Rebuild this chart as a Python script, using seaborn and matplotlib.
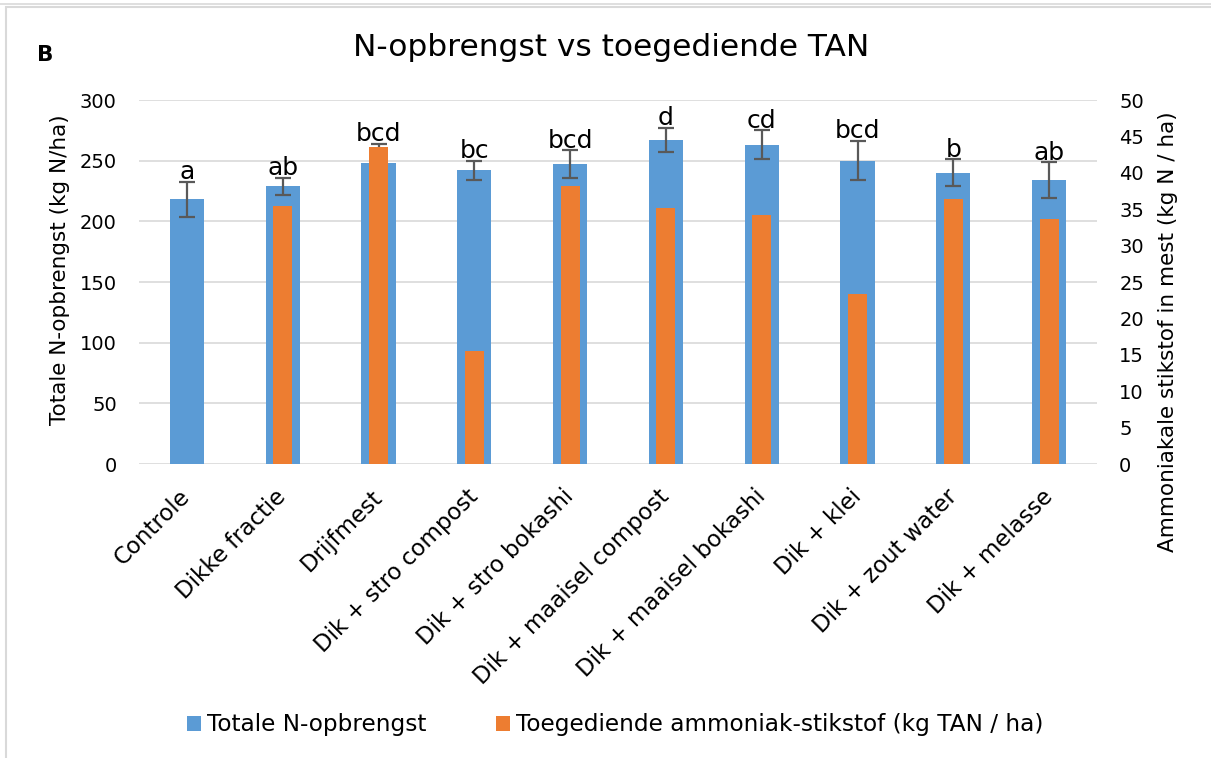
import numpy as np
import pandas as pd
import matplotlib
matplotlib.use("Agg")
import matplotlib.pyplot as plt
from matplotlib.patches import Patch, Rectangle
from matplotlib.lines import Line2D
import seaborn as sns

# ---------------- data ----------------
categories = ["Controle", "Dikke fractie", "Drijfmest", "Dik + stro compost",
              "Dik + stro bokashi", "Dik + maaisel compost", "Dik + maaisel bokashi",
              "Dik + klei", "Dik + zout water", "Dik + melasse"]
n_yield = [218, 229, 248, 242, 247, 267, 263, 250, 240, 234]          # kg N/ha
n_yield_err = [14.5, 7, 16, 8, 11.5, 10, 12, 16, 11, 14.5]
tan_applied = [0, 35.5, 43.5, 15.5, 38.2, 35.2, 34.2, 23.4, 36.4, 33.6]  # kg TAN/ha
letters = ["a", "ab", "bcd", "bc", "bcd", "d", "cd", "bcd", "b", "ab"]
left_ticks = [0, 50, 100, 150, 200, 250, 300]
right_ticks = [0, 5, 10, 15, 20, 25, 30, 35, 40, 45, 50]

title = "N-opbrengst vs toegediende TAN"
left_label = "Totale N-opbrengst (kg N/ha)"
right_label = "Ammoniakale stikstof in mest (kg N / ha)"
legend_labels = ["Totale N-opbrengst", "Toegediende ammoniak-stikstof (kg TAN / ha)"]

BLUE = "#5B9BD5"
ORANGE = "#ED7D31"
GRID = "#D9D9D9"
ERR = "#595959"
TXT = "#000000"

sns.set_style("white")
plt.rcParams["font.family"] = ["DejaVu Sans"]
plt.rcParams["text.color"] = TXT

df = pd.DataFrame({"cat": categories, "yield": n_yield, "err": n_yield_err,
                   "tan": tan_applied, "letter": letters})

W, H = 1211, 758
fig = plt.figure(figsize=(W / 100, H / 100), dpi=100)
ax = fig.add_axes([139 / W, 1 - 464 / H, (1097 - 139) / W, (464 - 100) / H])
ax2 = ax.twinx()

sns.barplot(data=df, x="cat", y="yield", order=categories, color=BLUE,
            width=0.355, errorbar=None, linewidth=0, saturation=1, ax=ax)
xpos = np.arange(len(categories))
ax.errorbar(xpos, df["yield"], yerr=df["err"], fmt="none", ecolor=ERR,
            elinewidth=1.6, capsize=6, capthick=1.6, zorder=3)

sns.barplot(data=df, x="cat", y="tan", order=categories, color=ORANGE,
            width=0.2, errorbar=None, linewidth=0, saturation=1, ax=ax2)

for i, row in df.iterrows():
    ax2.annotate(row["letter"], xy=(i, row["yield"] + row["err"]),
                 xycoords=ax.transData, xytext=(0, 2), textcoords="offset points",
                 ha="center", va="baseline", fontsize=18, color=TXT, zorder=5)

ax.set_ylim(0, 300)
ax2.set_ylim(0, 50)
ax.set_xlim(-0.5, len(categories) - 0.5)
ax2.set_xlim(-0.5, len(categories) - 0.5)
ax.set_yticks(left_ticks)
ax2.set_yticks(right_ticks)
ax.grid(axis="y", color=GRID, linewidth=1.2)
ax.grid(axis="x", visible=False)
ax2.grid(False)
ax.set_axisbelow(True)
for a in (ax, ax2):
    for s in a.spines.values():
        s.set_visible(False)
    a.tick_params(length=0)

ax.tick_params(axis="y", labelsize=14, pad=16, labelcolor=TXT)
ax2.tick_params(axis="y", labelsize=14, pad=16, labelcolor=TXT)
ax.set_xlabel("")
ax2.set_xlabel("")
ax.set_xticks(xpos)
ax.set_xticklabels(categories, rotation=45, ha="right", va="center",
                   rotation_mode="anchor", fontsize=16.5, color=TXT)
ax.tick_params(axis="x", pad=21)

ax.set_ylabel(left_label, fontsize=15.5, color=TXT)
ax.yaxis.set_label_coords((70 - 139) / 958, (464 - 270) / 364)
ax2.set_ylabel(right_label, fontsize=15.5, color=TXT, rotation=90, va="top")
ax2.yaxis.set_label_coords((1158 - 139) / 958, (464 - 331.5) / 364)

fig.text(611 / W, 1 - 47 / H, title, ha="center", va="center", fontsize=22.5, color=TXT)
fig.text(45 / W, 1 - 55 / H, "B", ha="center", va="center", fontsize=15.5,
         fontweight="bold", color=TXT)

handles = [Patch(facecolor=BLUE, edgecolor="none"), Patch(facecolor=ORANGE, edgecolor="none")]
fig.legend(handles, legend_labels, loc="center", bbox_to_anchor=(615 / W, 1 - 725 / H),
           ncol=2, frameon=False, fontsize=16.7, handlelength=0.6, handleheight=0.6,
           handletextpad=0.25, columnspacing=3.0, labelcolor=TXT)

# chart frame
fig.add_artist(Rectangle((6 / W, -0.2), 1.5, 1 - 7 / H + 0.2, transform=fig.transFigure,
                         fill=False, edgecolor=GRID, linewidth=1.5))
fig.add_artist(Line2D([0, 1], [1 - 3.5 / H, 1 - 3.5 / H], transform=fig.transFigure,
                      color=GRID, linewidth=1.2))

fig.savefig("out.png", dpi=100)
